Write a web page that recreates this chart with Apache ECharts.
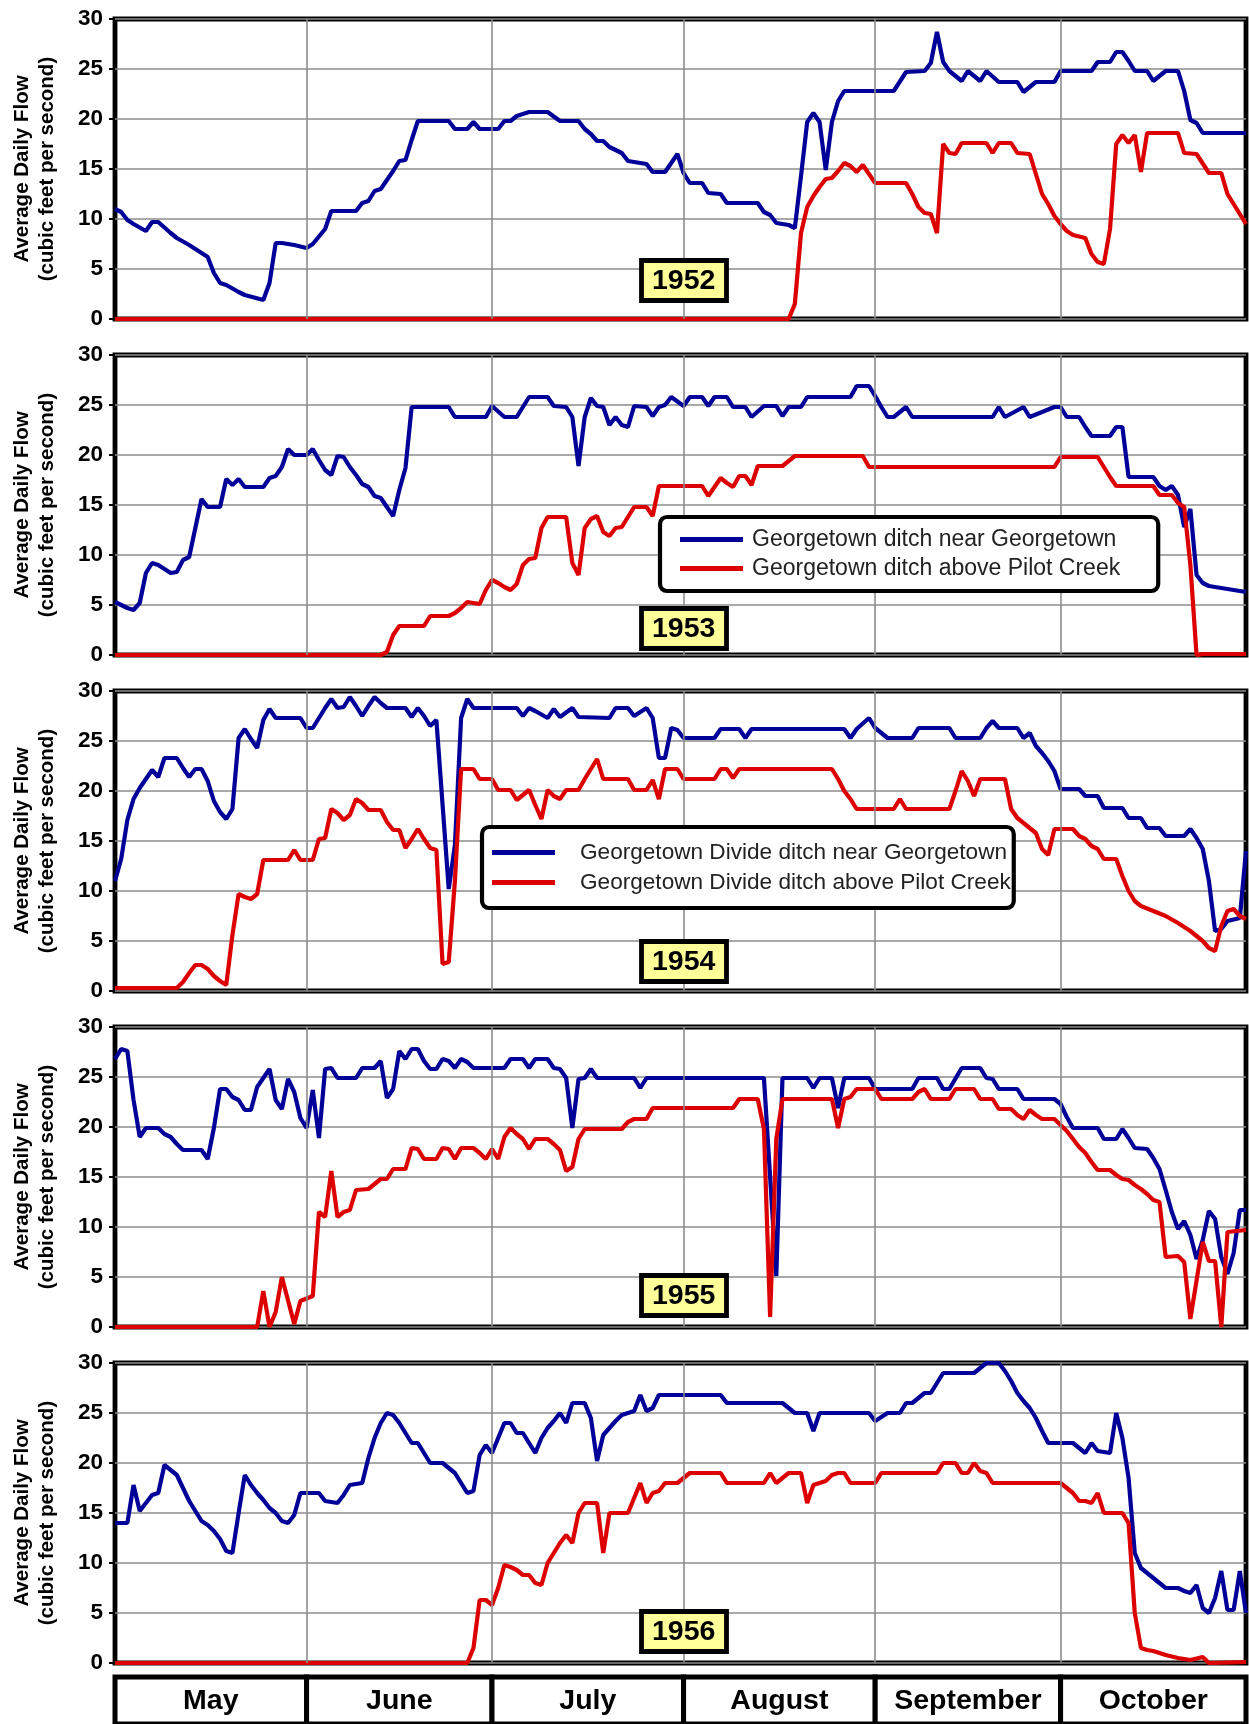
<!DOCTYPE html>
<html><head><meta charset="utf-8">
<script src="https://cdn.jsdelivr.net/npm/echarts@6/dist/echarts.min.js"></script>
<style>html,body{margin:0;padding:0;background:#fff}#c{width:1249px;height:1724px}</style>
</head><body><div id="c"></div>
<script>
// ---- data (x = day index from May 1, y = cfs) ----
const years = ['1952', '1953', '1954', '1955', '1956'];
const months = ['May', 'June', 'July', 'August', 'September', 'October'];
const monthEdges = [0, 31, 61, 92, 123, 153, 183];
const yTicks = [0, 5, 10, 15, 20, 25, 30];
const blueNames = ['Georgetown ditch near Georgetown', 'Georgetown ditch near Georgetown', 'Georgetown Divide ditch near Georgetown', 'Georgetown Divide ditch near Georgetown', 'Georgetown Divide ditch near Georgetown'];
const redNames = ['Georgetown ditch above Pilot Creek', 'Georgetown ditch above Pilot Creek', 'Georgetown Divide ditch above Pilot Creek', 'Georgetown Divide ditch above Pilot Creek', 'Georgetown Divide ditch above Pilot Creek'];

const blue1952 = [[0,11],[1,10.7],[2,9.9],[3,9.5],[5,8.8],[6,9.7],[7,9.7],[9,8.6],[10,8.1],[12,7.4],[13,7.0],[15,6.2],[16,4.6],[17,3.6],[18,3.4],[20,2.7],[21,2.4],[24,1.9],[25,3.6],[26,7.6],[27,7.6],[29,7.4],[31,7.1],[32,7.5],[34,9.0],[35,10.8],[39,10.8],[40,11.6],[41,11.8],[42,12.8],[43,13.0],[45,14.8],[46,15.8],[47,15.9],[48,17.9],[49,19.8],[54,19.8],[55,19.0],[57,19.0],[58,19.7],[59,19.0],[62,19.0],[63,19.8],[64,19.8],[65,20.3],[67,20.7],[70,20.7],[72,19.8],[75,19.8],[76,19.0],[77,18.5],[78,17.8],[79,17.8],[80,17.2],[82,16.6],[83,15.8],[86,15.5],[87,14.7],[89,14.7],[91,16.5],[92,14.6],[93,13.6],[95,13.6],[96,12.6],[98,12.5],[99,11.6],[104,11.6],[105,10.7],[106,10.4],[107,9.6],[109,9.4],[110,9.1],[111,14.3],[112,19.7],[113,20.6],[114,19.7],[115,14.9],[116,19.7],[117,21.8],[118,22.8],[126,22.8],[128,24.7],[131,24.8],[132,25.6],[133,28.7],[134,25.7],[135,24.8],[137,23.8],[138,24.8],[140,23.8],[141,24.8],[143,23.7],[146,23.7],[147,22.7],[149,23.7],[152,23.7],[153,24.8],[158,24.8],[159,25.7],[161,25.7],[162,26.7],[163,26.7],[164,25.8],[165,24.8],[167,24.8],[168,23.8],[170,24.8],[172,24.8],[173,22.8],[174,19.9],[175,19.6],[176,18.6],[183,18.6]];
const red1952 = [[0,0],[109,0],[110,1.5],[111,8.6],[112,11.2],[113,12.3],[114,13.2],[115,14.0],[116,14.1],[117,14.8],[118,15.6],[119,15.3],[120,14.7],[121,15.4],[122,14.5],[123,13.6],[128,13.6],[129,12.5],[130,11.2],[131,10.6],[132,10.5],[133,8.6],[134,17.5],[135,16.6],[136,16.5],[137,17.6],[141,17.6],[142,16.6],[143,17.6],[145,17.6],[146,16.6],[148,16.5],[149,14.5],[150,12.5],[151,11.5],[152,10.3],[153,9.5],[154,8.8],[155,8.4],[157,8.1],[158,6.5],[159,5.7],[160,5.5],[161,9.0],[162,17.5],[163,18.4],[164,17.6],[165,18.4],[166,14.7],[167,18.6],[172,18.6],[173,16.6],[175,16.5],[177,14.6],[179,14.6],[180,12.5],[181,11.5],[183,9.5]];

const blue1953 = [[0,5.3],[1,5.0],[2,4.7],[3,4.5],[4,5.2],[5,8.2],[6,9.2],[7,9.0],[8,8.6],[9,8.2],[10,8.3],[11,9.5],[12,9.8],[13,12.7],[14,15.6],[15,14.8],[17,14.8],[18,17.6],[19,17.0],[20,17.6],[21,16.8],[24,16.8],[25,17.7],[26,17.9],[27,18.8],[28,20.6],[29,20.0],[31,20.0],[32,20.6],[33,19.5],[34,18.5],[35,18.0],[36,19.9],[37,19.8],[38,18.8],[39,18.0],[40,17.1],[41,16.8],[42,15.9],[43,15.7],[45,13.9],[46,16.5],[47,18.7],[48,24.8],[54,24.8],[55,23.8],[60,23.8],[61,24.9],[63,23.8],[65,23.8],[67,25.8],[70,25.8],[71,24.9],[73,24.8],[74,23.8],[75,18.9],[76,23.8],[77,25.7],[78,24.9],[79,24.8],[80,23.0],[81,23.8],[82,23.0],[83,22.8],[84,24.9],[86,24.8],[87,23.9],[88,24.8],[89,25.0],[90,25.8],[92,24.9],[93,25.8],[95,25.8],[96,24.9],[97,25.8],[99,25.8],[100,24.8],[102,24.8],[103,23.8],[105,24.9],[107,24.9],[108,23.9],[109,24.8],[111,24.8],[112,25.8],[119,25.8],[120,26.9],[122,26.9],[123,25.9],[124,24.8],[125,23.8],[126,23.8],[128,24.8],[129,23.8],[142,23.8],[143,24.8],[144,23.8],[147,24.8],[148,23.8],[152,24.8],[153,24.8],[154,23.8],[156,23.8],[157,22.8],[158,21.9],[161,21.9],[162,22.8],[163,22.8],[164,17.8],[168,17.8],[169,16.9],[170,16.5],[171,16.9],[172,16.0],[173,12.8],[174,14.6],[175,8.0],[176,7.2],[177,6.9],[180,6.6],[183,6.3]];
const red1953 = [[0,0],[43,0],[44,0.3],[45,2.0],[46,2.9],[50,2.9],[51,3.9],[54,3.9],[55,4.2],[56,4.7],[57,5.3],[58,5.2],[59,5.1],[60,6.5],[61,7.5],[62,7.2],[63,6.8],[64,6.5],[65,7.1],[66,9.0],[67,9.6],[68,9.7],[69,12.7],[70,13.8],[73,13.8],[74,9.2],[75,8.0],[76,12.7],[77,13.6],[78,13.9],[79,12.3],[80,11.9],[81,12.7],[82,12.8],[84,14.8],[86,14.8],[87,13.9],[88,16.9],[95,16.9],[96,15.9],[97,16.8],[98,17.7],[99,17.2],[100,16.8],[101,17.9],[102,17.9],[103,17.0],[104,18.9],[108,18.9],[109,19.4],[110,19.9],[121,19.9],[122,18.8],[152,18.8],[153,19.8],[159,19.8],[160,18.8],[161,17.8],[162,16.9],[168,16.9],[169,16.0],[171,16.0],[172,15.2],[173,14.8],[174,9.0],[175,0],[176,0.1],[183,0.1]];

const blue1954 = [[0,11.0],[1,13.2],[2,17.1],[3,19.2],[4,20.3],[5,21.2],[6,22.1],[7,21.4],[8,23.3],[10,23.3],[11,22.3],[12,21.4],[13,22.2],[14,22.2],[15,21.0],[16,19.0],[17,17.9],[18,17.2],[19,18.2],[20,25.3],[21,26.2],[22,25.2],[23,24.3],[24,27.1],[25,28.2],[26,27.3],[30,27.3],[31,26.3],[32,26.3],[33,27.3],[34,28.3],[35,29.2],[36,28.3],[37,28.4],[38,29.4],[39,28.5],[40,27.5],[41,28.5],[42,29.4],[43,28.8],[44,28.3],[47,28.3],[48,27.4],[49,28.3],[50,27.5],[51,26.5],[52,27.1],[54,10.2],[55,14.6],[56,27.3],[57,29.2],[58,28.3],[65,28.3],[66,27.5],[67,28.3],[68,28.0],[70,27.3],[71,28.2],[72,27.4],[74,28.3],[75,27.4],[80,27.3],[81,28.3],[83,28.3],[84,27.5],[86,28.3],[87,27.3],[88,23.3],[89,23.3],[90,26.3],[91,26.1],[92,25.3],[97,25.3],[98,26.2],[101,26.2],[102,25.3],[103,26.2],[118,26.2],[119,25.3],[120,26.2],[122,27.3],[123,26.3],[125,25.3],[129,25.3],[130,26.3],[135,26.3],[136,25.3],[140,25.3],[141,26.3],[142,27.0],[143,26.3],[146,26.3],[147,25.3],[148,25.8],[149,24.5],[150,23.8],[151,23.0],[152,22.0],[153,20.2],[156,20.2],[157,19.5],[159,19.5],[160,18.3],[163,18.3],[164,17.3],[166,17.3],[167,16.3],[169,16.3],[170,15.5],[173,15.5],[174,16.2],[175,15.3],[176,14.2],[177,11.0],[178,6.0],[179,6.2],[180,7.0],[182,7.3],[183,14.0]];
const red1954 = [[0,0.3],[10,0.3],[11,0.9],[12,1.8],[13,2.6],[14,2.6],[15,2.2],[16,1.5],[17,1.0],[18,0.6],[19,5.6],[20,9.7],[21,9.4],[22,9.2],[23,9.7],[24,13.1],[28,13.1],[29,14.1],[30,13.1],[32,13.1],[33,15.2],[34,15.3],[35,18.2],[36,17.8],[37,17.1],[38,17.6],[39,19.2],[40,18.8],[41,18.1],[43,18.1],[44,16.9],[45,16.1],[46,16.1],[47,14.3],[48,15.2],[49,16.2],[50,15.2],[51,14.3],[52,14.1],[53,2.7],[54,2.9],[55,11.0],[56,22.2],[58,22.2],[59,21.2],[61,21.2],[62,20.1],[64,20.1],[65,19.1],[66,19.6],[67,20.1],[68,18.6],[69,17.2],[70,20.1],[71,19.5],[72,19.2],[73,20.1],[75,20.1],[76,21.2],[77,22.2],[78,23.2],[79,21.2],[83,21.2],[84,20.1],[86,20.1],[87,21.1],[88,19.2],[89,22.2],[91,22.2],[92,21.2],[97,21.2],[98,22.2],[99,22.2],[100,21.3],[101,22.2],[116,22.2],[117,21.2],[118,20.0],[119,19.2],[120,18.2],[126,18.2],[127,19.2],[128,18.2],[135,18.2],[136,20.0],[137,22.0],[138,21.0],[139,19.5],[140,21.2],[144,21.2],[145,18.2],[146,17.3],[147,16.8],[149,15.8],[150,14.2],[151,13.6],[152,16.2],[155,16.2],[156,15.5],[157,15.2],[158,14.5],[159,14.2],[160,13.2],[162,13.2],[163,11.5],[164,10.0],[165,9.0],[166,8.5],[168,8.0],[170,7.5],[172,6.8],[174,6.0],[176,5.0],[177,4.3],[178,4.0],[179,6.5],[180,8.0],[181,8.2],[182,7.5],[183,7.2]];

const blue1955 = [[0,26.8],[1,27.8],[2,27.6],[3,22.7],[4,19.0],[5,19.9],[7,19.9],[8,19.3],[9,19.0],[10,18.3],[11,17.7],[14,17.7],[15,16.8],[16,19.9],[17,23.8],[18,23.8],[19,23.0],[20,22.7],[21,21.7],[22,21.7],[23,24.0],[24,24.9],[25,25.8],[26,22.7],[27,21.8],[28,24.8],[29,23.5],[30,20.9],[31,19.9],[32,23.7],[33,18.9],[34,25.8],[35,25.9],[36,24.9],[39,24.9],[40,25.9],[42,25.9],[43,26.6],[44,22.9],[45,23.8],[46,27.6],[47,26.8],[48,27.8],[49,27.8],[50,26.6],[51,25.8],[52,25.8],[53,26.8],[54,26.6],[55,25.9],[56,26.8],[57,26.5],[58,25.9],[63,25.9],[64,26.8],[66,26.8],[67,25.9],[68,26.8],[70,26.8],[71,25.9],[72,25.8],[73,24.9],[74,19.9],[75,24.8],[76,24.9],[77,25.8],[78,24.9],[84,24.9],[85,23.9],[86,24.9],[105,24.9],[107,5.1],[108,24.9],[112,24.9],[113,23.9],[114,24.9],[116,24.9],[117,21.9],[118,24.9],[122,24.9],[123,23.8],[129,23.8],[130,24.9],[133,24.9],[134,23.8],[135,23.8],[137,25.9],[140,25.9],[141,24.9],[142,24.8],[143,23.8],[146,23.8],[147,22.8],[152,22.8],[153,22.3],[154,21.0],[155,19.9],[159,19.9],[160,18.8],[162,18.8],[163,19.8],[164,18.9],[165,17.9],[167,17.8],[168,16.9],[169,15.8],[170,13.7],[171,11.5],[172,9.8],[173,10.6],[174,9.2],[175,6.8],[176,8.7],[177,11.6],[178,10.8],[179,7.0],[180,5.3],[181,7.4],[182,11.7],[183,11.7]];
const red1955 = [[0,0],[23,0],[24,3.6],[25,0],[26,1.5],[27,5.0],[29,0.3],[30,2.6],[32,3.1],[33,11.5],[34,11.0],[35,15.6],[36,11.0],[37,11.5],[38,11.7],[39,13.7],[41,13.8],[42,14.3],[43,14.8],[44,14.8],[45,15.8],[47,15.8],[48,17.9],[49,17.8],[50,16.8],[52,16.8],[53,17.9],[54,17.8],[55,16.8],[56,17.9],[58,17.9],[59,17.4],[60,16.8],[61,17.8],[62,16.8],[63,19.0],[64,19.9],[65,19.3],[66,18.8],[67,17.8],[68,18.8],[70,18.8],[71,18.3],[72,17.7],[73,15.6],[74,16.0],[75,18.8],[76,19.8],[82,19.8],[83,20.5],[84,20.8],[86,20.8],[87,21.9],[100,21.9],[101,22.8],[104,22.8],[105,19.8],[106,1.0],[107,18.8],[108,22.8],[116,22.8],[117,19.9],[118,22.8],[119,23.0],[120,23.8],[123,23.8],[124,22.8],[129,22.8],[130,23.5],[131,23.8],[132,22.8],[135,22.8],[136,23.8],[139,23.8],[140,22.8],[142,22.8],[143,21.8],[145,21.8],[146,21.2],[147,20.8],[148,21.7],[149,21.2],[150,20.8],[152,20.8],[153,20.2],[154,19.6],[155,18.8],[156,18.0],[157,17.4],[158,16.5],[159,15.7],[161,15.7],[162,15.2],[163,14.8],[164,14.7],[165,14.2],[166,13.8],[167,13.3],[168,12.7],[169,12.5],[170,7.0],[172,7.1],[173,6.5],[174,0.8],[176,8.5],[177,6.6],[178,6.6],[179,0],[180,9.5],[183,9.7]];

const blue1956 = [[0,14],[2,14],[3,17.8],[4,15.2],[5,16],[6,16.8],[7,17],[8,19.8],[9,19.3],[10,18.8],[11,17.5],[12,16.2],[13,15.2],[14,14.2],[15,13.8],[16,13.2],[17,12.4],[18,11.2],[19,11],[20,15],[21,18.8],[22,17.8],[23,17],[24,16.3],[25,15.5],[26,15],[27,14.2],[28,14],[29,14.8],[30,17],[33,17],[34,16.2],[36,16],[37,16.8],[38,17.8],[40,18],[41,20.5],[42,22.5],[43,24],[44,25],[45,24.8],[46,24],[47,23],[48,22],[49,22],[50,21],[51,20],[53,20],[54,19.5],[55,19],[56,18],[57,17],[58,17.2],[59,20.8],[60,21.8],[61,21],[62,22.5],[63,24],[64,24],[65,23],[66,23],[67,22],[68,21],[69,22.5],[70,23.5],[71,24.2],[72,25],[73,24],[74,26],[76,26],[77,24.5],[78,20.2],[79,22.8],[80,23.5],[81,24.2],[82,24.8],[83,25],[84,25.2],[85,26.8],[86,25.2],[87,25.5],[88,26.8],[98,26.8],[99,26],[108,26],[109,25.5],[110,25],[112,25],[113,23.2],[114,25],[122,25],[123,24.2],[124,24.6],[125,25],[127,25],[128,26],[129,26],[130,26.5],[131,27],[132,27],[133,28],[134,29],[139,29],[140,29.5],[141,30],[143,30],[144,29.2],[145,28.2],[146,27],[147,26.2],[148,25.5],[149,24.5],[150,23.2],[151,22],[155,22],[156,21.5],[157,21],[158,22],[159,21.2],[161,21],[162,25],[163,22.5],[164,18.5],[165,11],[166,9.5],[167,9],[168,8.5],[169,8],[170,7.5],[172,7.5],[173,7.2],[174,7],[175,7.8],[176,5.5],[177,5.0],[178,6.5],[179,9.2],[180,5.3],[181,5.3],[182,9.2],[183,5.0]];
const red1956 = [[0,0],[57,0],[58,1.5],[59,6.3],[60,6.3],[61,5.8],[62,7.5],[63,9.8],[64,9.6],[65,9.3],[66,8.8],[67,8.8],[68,8],[69,7.8],[70,10],[71,11],[72,12],[73,12.8],[74,12],[75,15],[76,16],[78,16],[79,11],[80,15],[83,15],[84,16.5],[85,18],[86,16],[87,17],[88,17.2],[89,18],[91,18],[92,18.5],[93,19],[98,19],[99,18],[105,18],[106,19],[107,18],[108,18.5],[109,19],[111,19],[112,16],[113,17.8],[114,18],[115,18.2],[116,18.8],[117,19],[118,19],[119,18],[123,18],[124,19],[133,19],[134,20],[136,20],[137,19],[138,19],[139,20],[140,19.2],[141,19],[142,18],[153,18],[154,17.5],[155,17],[156,16.2],[157,16.2],[158,16],[159,17],[160,15],[163,15],[164,14],[165,5],[166,1.5],[167,1.3],[168,1.2],[170,0.8],[172,0.5],[174,0.3],[176,0.6],[177,0],[183,0.1]];

const blueData = [blue1952, blue1953, blue1954, blue1955, blue1956];
const redData = [red1952, red1953, red1954, red1955, red1956];

// ---- layout / style ----
const FONT = '"Liberation Sans", Arial, Helvetica, sans-serif';
const TOPS = [19, 355, 691, 1027, 1363];
const H = 300;
const BOX_GAP = [15, 3, 6, 8, 8];
const BLUE = '#000099', RED = '#dd0000', GRIDC = '#8c8c8c';

const chart = echarts.init(document.getElementById('c'), null, {renderer: 'canvas'});

const grids = TOPS.map(t => ({left: 115, right: 3, top: t, height: H, show: true, borderColor: '#000', borderWidth: 4.8, backgroundColor: '#fff'}));
grids.push({left: 115, right: 3, top: 1677, height: 80});

const xAxes = [], yAxes = [], series = [];
TOPS.forEach((t, i) => {
  xAxes.push({gridIndex: i, type: 'value', min: monthEdges[0], max: monthEdges[6], show: false});
  yAxes.push({
    gridIndex: i, type: 'value', min: yTicks[0], max: yTicks[yTicks.length - 1], interval: 5,
    axisLine: {show: false},
    axisTick: {show: true, length: 6, lineStyle: {color: '#000', width: 2}},
    axisLabel: {fontFamily: FONT, fontSize: 22.5, fontWeight: 'bold', color: '#000', margin: 12},
    splitLine: {show: true, lineStyle: {color: GRIDC, width: 1.6}},
    name: 'Average Daily Flow\n(cubic feet per second)', nameLocation: 'middle', nameGap: 55, nameRotate: 90,
    nameTextStyle: {fontFamily: FONT, fontSize: 20.5, fontWeight: 'bold', color: '#000', lineHeight: 25}
  });
  series.push({
    type: 'line', xAxisIndex: i, yAxisIndex: i, data: [], z: 1, silent: true, animation: false,
    markLine: {silent: true, symbol: ['none', 'none'], label: {show: false}, animation: false,
      lineStyle: {color: GRIDC, width: 1.6, type: 'solid'},
      data: monthEdges.slice(1, 6).map(d => ({xAxis: d}))}
  });
  series.push({type: 'line', name: blueNames[i], xAxisIndex: i, yAxisIndex: i, data: blueData[i], symbol: 'none', showSymbol: false,
    lineStyle: {color: BLUE, width: 4.2}, itemStyle: {color: BLUE}, z: 3, animation: false});
  series.push({type: 'line', name: redNames[i], xAxisIndex: i, yAxisIndex: i, data: redData[i], symbol: 'none', showSymbol: false,
    lineStyle: {color: RED, width: 4.2}, itemStyle: {color: RED}, z: 4, animation: false});
});
xAxes.push({gridIndex: 5, type: 'value', min: monthEdges[0], max: monthEdges[6], show: false});
yAxes.push({gridIndex: 5, type: 'value', min: 0, max: 1, show: false});
series.push({
  type: 'custom', xAxisIndex: 5, yAxisIndex: 5, clip: false, silent: true, animation: false,
  data: months.map((m, k) => [monthEdges[k], monthEdges[k + 1]]),
  renderItem: (params, api) => {
    const a = api.coord([api.value(0), 1]);
    const b = api.coord([api.value(1), 0]);
    return {type: 'group', children: [
      {type: 'rect', shape: {x: a[0], y: a[1], width: b[0] - a[0], height: b[1] - a[1]},
        style: {fill: '#fff', stroke: '#000', lineWidth: 5}},
      {type: 'text', x: (a[0] + b[0]) / 2, y: a[1] + 24,
        style: {text: months[params.dataIndex], fontFamily: FONT, fontSize: 28.5, fontWeight: 'bold', fill: '#000', align: 'center', verticalAlign: 'middle'}}
    ]};
  }
});

const titles = years.map((y, i) => ({
  text: y, left: 641, top: TOPS[i] + H - BOX_GAP[i] - 44,
  backgroundColor: '#ffff99', borderColor: '#000', borderWidth: 4.8, padding: [5, 11, 4, 11],
  textStyle: {fontFamily: FONT, fontSize: 28.5, fontWeight: 'bold', color: '#000', lineHeight: 32}
}));

const legendBase = {
  orient: 'vertical', icon: 'rect', itemWidth: 63, itemHeight: 5, selectedMode: false,
  borderColor: '#000', borderWidth: 4.2, borderRadius: 7, backgroundColor: '#fff', z: 10
};
const legends = [
  Object.assign({}, legendBase, {data: [blueNames[1], redNames[1]], left: 660, top: 517, itemGap: 6, padding: [11, 38, 11, 20],
    textStyle: {fontFamily: FONT, fontSize: 23, color: '#222', padding: [0, 0, 0, 4]}}),
  Object.assign({}, legendBase, {data: [blueNames[2], redNames[2]], left: 482, top: 827, itemGap: 7, padding: [14, 3, 14, 10],
    textStyle: {fontFamily: FONT, fontSize: 22.6, color: '#222', padding: [0, 0, 0, 20]}})
];

chart.setOption({
  animation: false,
  backgroundColor: '#fff',
  title: titles,
  legend: legends,
  grid: grids,
  xAxis: xAxes,
  yAxis: yAxes,
  series: series
});
</script></body></html>
